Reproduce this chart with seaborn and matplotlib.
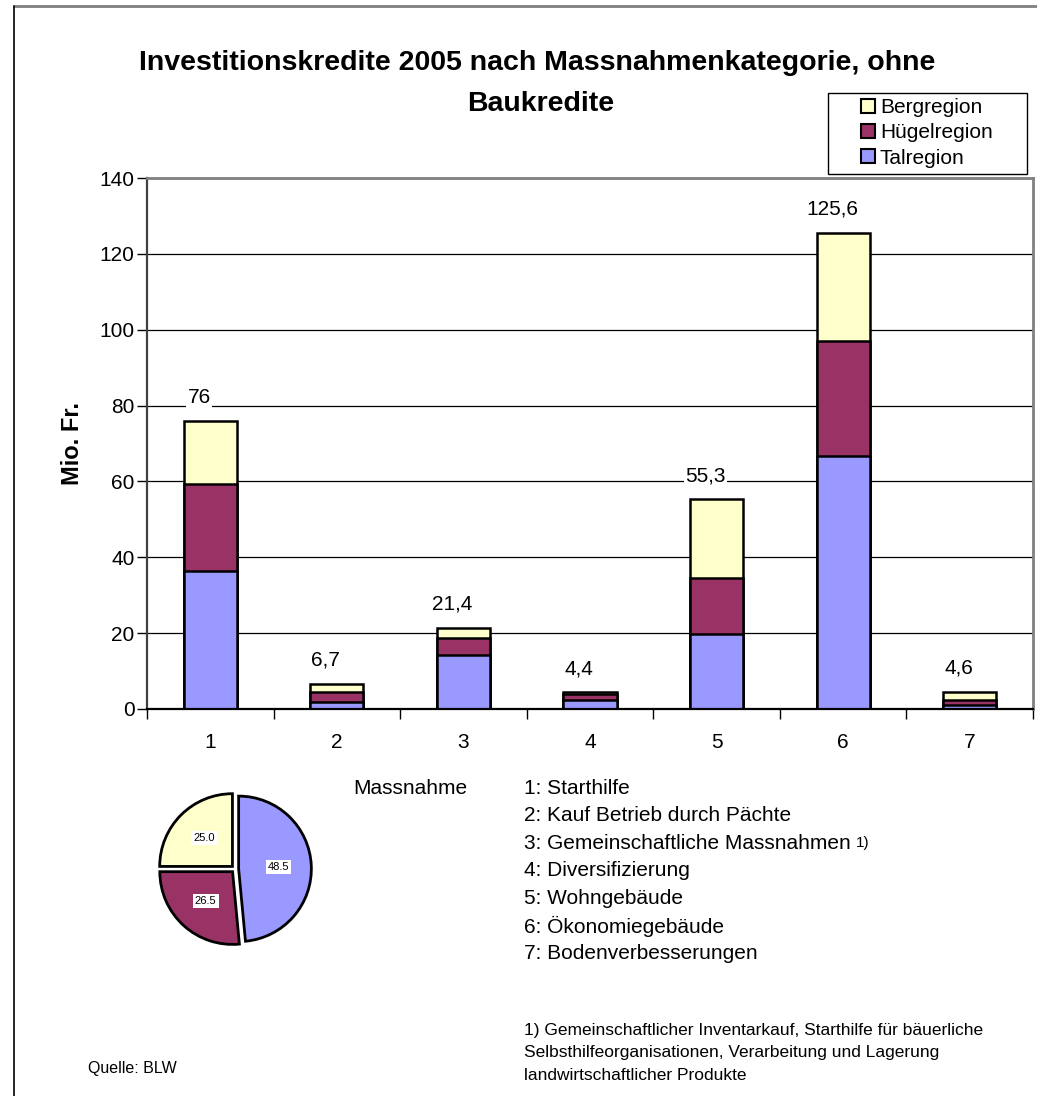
import matplotlib
matplotlib.use("Agg")
import matplotlib.pyplot as plt
from matplotlib.lines import Line2D
from matplotlib.patches import Patch, Rectangle
import numpy as np
import pandas as pd
import seaborn as sns

# Werte in Mio. Fr.
massnahmen = ["1", "2", "3", "4", "5", "6", "7"]
talregion = [36.4, 1.9, 14.3, 2.4, 19.7, 66.6, 1.0]
huegelregion = [23.0, 2.5, 4.3, 1.5, 14.8, 30.4, 1.3]
bergregion = [16.6, 2.3, 2.8, 0.5, 20.8, 28.6, 2.3]
total_labels = ["76", "6,7", "21,4", "4,4", "55,3", "125,6", "4,6"]

pie_regionen = ["Talregion", "Hügelregion", "Bergregion"]
pie_anteil = [48.5, 26.5, 25.0]

massnahme_namen = [
    "1: Starthilfe",
    "2: Kauf Betrieb durch Pächte",
    "3: Gemeinschaftliche Massnahmen",
    "4: Diversifizierung",
    "5: Wohngebäude",
    "6: Ökonomiegebäude",
    "7: Bodenverbesserungen",
]
fussnote = [
    "1) Gemeinschaftlicher Inventarkauf, Starthilfe für bäuerliche",
    "Selbsthilfeorganisationen, Verarbeitung und Lagerung",
    "landwirtschaftlicher Produkte",
]

sns.set_theme(style="white")
plt.rcParams["font.family"] = ["Liberation Sans", "DejaVu Sans"]
plt.rcParams.update({"text.color": "black", "axes.labelcolor": "black",
                     "xtick.color": "black", "ytick.color": "black"})

c_tal = "#9999FF"
c_huegel = "#993366"
c_berg = "#FFFFCC"

df = pd.DataFrame({"massnahme": massnahmen, "tal": talregion,
                   "huegel": huegelregion, "berg": bergregion})
df["tal_huegel"] = df["tal"] + df["huegel"]
df["total"] = df["tal_huegel"] + df["berg"]

W, H = 1037, 1096
fig = plt.figure(figsize=(W / 100, H / 100), dpi=100)

# --- Balken (gestapelt über kumulierte Summen) ---
ax = fig.add_axes([147 / W, 1 - 709 / H, (1033 - 147) / W, (709 - 178) / H])
ax.set_axisbelow(True)
for col, c in [("total", c_berg), ("tal_huegel", c_huegel), ("tal", c_tal)]:
    sns.barplot(data=df, x="massnahme", y=col, color=c, saturation=1,
                edgecolor="black", linewidth=1.8, width=0.42,
                errorbar=None, ax=ax)

for i, (lbl, tot) in enumerate(zip(total_labels, df["total"])):
    ax.annotate(lbl, (i, tot), xytext=(-8, 10), textcoords="offset points",
                ha="center", va="bottom", fontsize=15,
                bbox=dict(fc="white", ec="none", pad=1))

ax.set_xlim(-0.5, 6.5)
ax.set_ylim(0, 140)
ax.set_yticks(range(0, 141, 20))
ax.set_xticks(range(7))
ax.set_xticks(np.arange(-0.5, 7, 1), minor=True)
ax.tick_params(axis="x", which="major", length=0, labelsize=15, pad=17)
ax.tick_params(axis="x", which="minor", bottom=True, length=7, width=1,
               color="black", direction="out")
ax.tick_params(axis="y", left=True, length=7, width=1, color="black",
               direction="out", labelsize=15, pad=2)
ax.yaxis.grid(True, color="black", linewidth=0.9)
ax.xaxis.grid(False)
ax.set_xlabel("")
ax.set_ylabel("Mio. Fr.", fontsize=17, fontweight="bold")
ax.yaxis.set_label_coords((84 - 147) / (1033 - 147), 0.5)

for s in ["top", "right"]:
    ax.spines[s].set_color("#808080")
    ax.spines[s].set_linewidth(2)
ax.spines["left"].set_color("#404040")
ax.spines["left"].set_linewidth(1.6)
ax.spines["bottom"].set_color("black")
ax.spines["bottom"].set_linewidth(1.6)

# --- Titel ---
fig.text(537 / W, 1 - 63 / H, "Investitionskredite 2005 nach Massnahmenkategorie, ohne",
         ha="center", va="center", fontsize=20.5, fontweight="bold")
fig.text(541 / W, 1 - 104 / H, "Baukredite",
         ha="center", va="center", fontsize=20.5, fontweight="bold")

# --- Legende ---
fig.add_artist(Rectangle((828 / W, 1 - 174 / H), (1027 - 828) / W, (174 - 93) / H,
                         transform=fig.transFigure, fc="white", ec="black", lw=1))
handles = [Patch(fc=c_berg, ec="black", lw=1.5, label="Bergregion"),
           Patch(fc=c_huegel, ec="black", lw=1.5, label="Hügelregion"),
           Patch(fc=c_tal, ec="black", lw=1.5, label="Talregion")]
fig.legend(handles=handles, loc="upper left", bbox_to_anchor=(861 / W, 1 - 98 / H),
           frameon=False, fontsize=15, handlelength=0.65, handleheight=0.65,
           handletextpad=0.25, borderpad=0, labelspacing=0.3, borderaxespad=0)

# --- Kuchen ---
pax = fig.add_axes([(235 - 80) / W, 1 - (869 + 80) / H, 160 / W, 160 / H])
wedges, texts, autotexts = pax.pie(
    pie_anteil, colors=[c_tal, c_huegel, c_berg], startangle=90,
    counterclock=False, explode=[0.05, 0.05, 0.05], autopct="%.1f",
    pctdistance=0.55, wedgeprops=dict(edgecolor="black", linewidth=2),
    textprops=dict(fontsize=8))
for t in autotexts:
    t.set_bbox(dict(fc="white", ec="none", pad=1.5))
pax.set_xlim(-1.1, 1.1)
pax.set_ylim(-1.1, 1.1)
pax.set_aspect("equal")

# --- Texte ---
fig.text(353 / W, 1 - 788 / H, "Massnahme", ha="left", va="center", fontsize=15)
for i, name in enumerate(massnahme_namen):
    t = fig.text(524 / W, 1 - (788 + 27.6 * i) / H, name, ha="left", va="center",
                 fontsize=15)
    if i == 2:
        fig.add_artist(matplotlib.text.Annotation(
            "1)", xy=(1, 0.5), xycoords=t, xytext=(4, 0),
            textcoords="offset points", fontsize=11, va="center", ha="left"))

for i, line in enumerate(fussnote):
    fig.text(524 / W, 1 - (1031 + 22 * i) / H, line, ha="left", va="center",
             fontsize=12.5)
fig.text(88 / W, 1 - 1068 / H, "Quelle: BLW", ha="left", va="center", fontsize=11.5)

# Rahmen
fig.add_artist(Line2D([14 / W, 1], [1 - 6 / H] * 2, color="#808080", lw=2))
fig.add_artist(Line2D([14 / W] * 2, [0, 1 - 6 / H], color="black", lw=1.2))

fig.savefig("out.png", dpi=100)
